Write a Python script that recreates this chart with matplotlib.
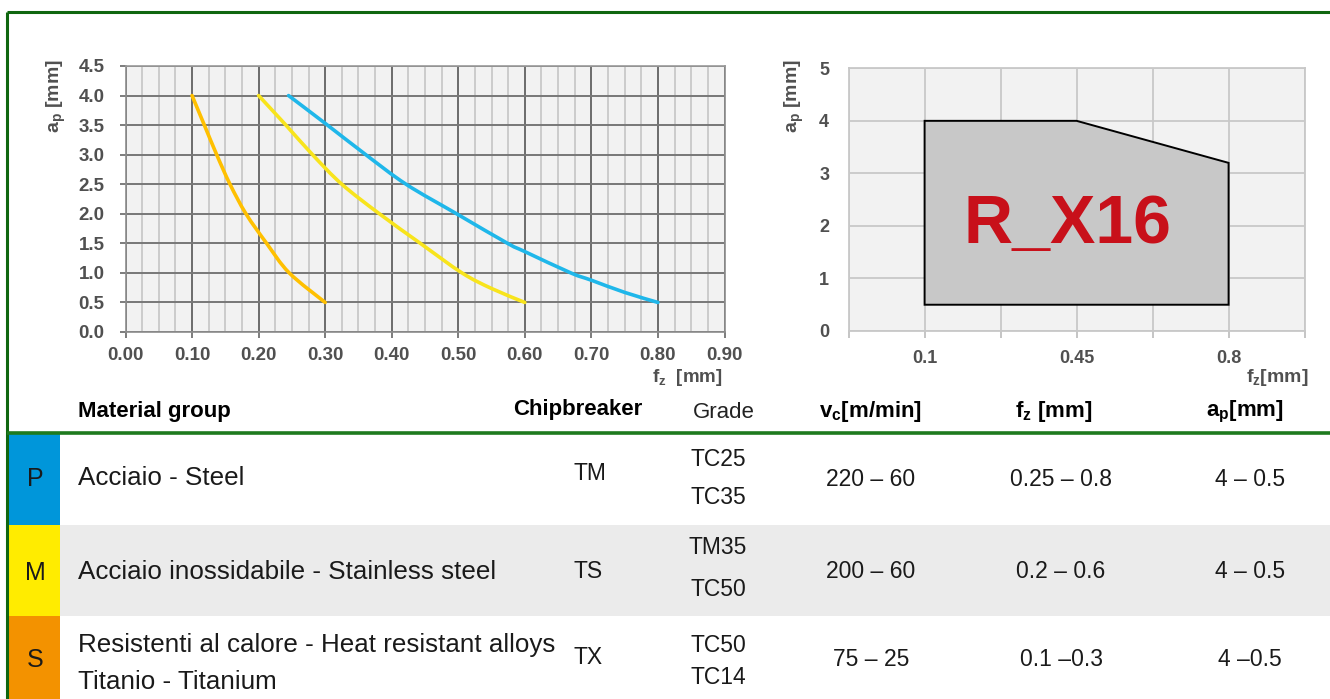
import matplotlib
matplotlib.use("Agg")
import matplotlib.pyplot as plt
from matplotlib.patches import Rectangle, Polygon, PathPatch
from matplotlib.path import Path
import numpy as np

plt.rcParams['font.family'] = ['Liberation Sans', 'DejaVu Sans']
plt.rcParams['mathtext.default'] = 'regular'

# ---------------- data ----------------
# left chart curves (fz [mm], ap [mm])
fz_P = [0.245, 0.30, 0.361, 0.4215, 0.4975, 0.574, 0.60, 0.669, 0.70, 0.75, 0.80]
ap_P = [4.0, 3.53, 3.0, 2.5, 2.0, 1.5, 1.36, 1.0, 0.876, 0.67, 0.5]
fz_M = [0.20, 0.241, 0.281, 0.325, 0.3815, 0.443, 0.5055, 0.55, 0.60]
ap_M = [4.0, 3.5, 3.0, 2.5, 2.0, 1.5, 1.0, 0.736, 0.5]
fz_S = [0.10, 0.1185, 0.137, 0.157, 0.181, 0.212, 0.246, 0.30]
ap_S = [4.0, 3.5, 3.0, 2.5, 2.0, 1.5, 1.0, 0.5]
color_P = '#1FB7EA'
color_M = '#F8E41C'
color_S = '#FFC000'

left_xticks = [0.0, 0.1, 0.2, 0.3, 0.4, 0.5, 0.6, 0.7, 0.8, 0.9]
left_xticklabels = ['0.00', '0.10', '0.20', '0.30', '0.40', '0.50', '0.60', '0.70', '0.80', '0.90']
left_yticks = [0.0, 0.5, 1.0, 1.5, 2.0, 2.5, 3.0, 3.5, 4.0, 4.5]
left_yticklabels = ['0.0', '0.5', '1.0', '1.5', '2.0', '2.5', '3.0', '3.5', '4.0', '4.5']

# right chart: working region
region_fz = [0.1, 0.1, 0.45, 0.8, 0.8]
region_ap = [0.5, 4.0, 4.0, 3.2, 0.5]
region_label = 'R_X16'
right_xticks = [0.1, 0.45, 0.8]
right_xticklabels = ['0.1', '0.45', '0.8']
right_yticks = [0, 1, 2, 3, 4, 5]

# table
groups = ['P', 'M', 'S']
group_colors = ['#0096DA', '#FFEC00', '#F39200']
materials = [['Acciaio - Steel'],
             ['Acciaio inossidabile - Stainless steel'],
             ['Resistenti al calore - Heat resistant alloys', 'Titanio - Titanium']]
chipbreakers = ['TM', 'TS', 'TX']
grades = [['TC25', 'TC35'], ['TM35', 'TC50'], ['TC50', 'TC14']]
vc_ranges = ['220 \u2013 60', '200 \u2013 60', '75 \u2013 25']
fz_ranges = ['0.25 \u2013 0.8', '0.2 \u2013 0.6', '0.1 \u20130.3']
ap_ranges = ['4 \u2013 0.5', '4 \u2013 0.5', '4 \u20130.5']
headers = ['Material group', 'Chipbreaker', 'Grade', 'v$_c$[m/min]', 'f$_z$ [mm]', 'a$_p$[mm]']

# ---------------- figure ----------------
W, H = 1330, 699
fig = plt.figure(figsize=(W / 100, H / 100), dpi=100)

def fx(px):
    return px / W

def fy(py):
    return 1 - py / H

def smooth_path(xs, ys):
    """Smooth curve through the given points (Catmull-Rom as cubic Bezier)."""
    pts = np.column_stack([xs, ys]).astype(float)
    n = len(pts)
    verts = [pts[0]]
    codes = [Path.MOVETO]
    for i in range(n - 1):
        p0 = pts[i - 1] if i > 0 else pts[i]
        p1 = pts[i]
        p2 = pts[i + 1]
        p3 = pts[i + 2] if i + 2 < n else pts[i + 1]
        verts += [p1 + (p2 - p0) / 6.0, p2 - (p3 - p1) / 6.0, p2]
        codes += [Path.CURVE4] * 3
    return Path(verts, codes)

TICK_COL = '#505050'
GREEN = '#0F660F'

# background / table axes in pixel coordinates
bg = fig.add_axes([0, 0, 1, 1])
bg.set_xlim(0, W)
bg.set_ylim(H, 0)
bg.axis('off')
bg.set_zorder(0)

# ---------------- left chart ----------------
axL = fig.add_axes([fx(125.5), fy(332), fx(724.5) - fx(125.5), fy(66) - fy(332)])
axL.set_zorder(2)
axL.set_facecolor('#F2F2F2')
axL.set_xlim(0, 0.9)
axL.set_ylim(0, 4.5)
axL.set_xticks(left_xticks)
axL.set_xticklabels(left_xticklabels)
axL.set_yticks(left_yticks)
axL.set_yticklabels(left_yticklabels)
axL.set_xticks(np.arange(0, 0.9001, 0.025), minor=True)
axL.grid(which='minor', axis='x', color='#C8C8C8', lw=1.3)
axL.grid(which='major', axis='x', color='#555555', lw=1.2)
axL.grid(which='major', axis='y', color='#777777', lw=1.4)
axL.set_axisbelow(True)
for s in axL.spines.values():
    s.set_color('#8C8C8C')
    s.set_linewidth(1.2)
axL.spines['top'].set_color('#999999')
axL.tick_params(axis='both', which='major', colors='#666666', labelcolor=TICK_COL,
                labelsize=13.5, length=4, width=1.2)
axL.tick_params(axis='x', which='minor', length=0)
axL.tick_params(axis='x', pad=7)
axL.tick_params(axis='y', pad=11)
for lab in axL.get_xticklabels() + axL.get_yticklabels():
    lab.set_fontweight('bold')

for xs, ys, c in [(fz_S, ap_S, color_S), (fz_M, ap_M, color_M), (fz_P, ap_P, color_P)]:
    axL.add_patch(PathPatch(smooth_path(xs, ys), facecolor='none', edgecolor=c,
                            lw=2.6, capstyle='round', joinstyle='round', zorder=3))

fig.text(fx(56), fy(96), 'a$_p$ [mm]', rotation=90, ha='center', va='center',
         fontsize=14, fontweight='bold', color=TICK_COL)
fig.text(fx(723), fy(377), 'f$_z$  [mm]', ha='right', va='center',
         fontsize=13.5, fontweight='bold', color=TICK_COL)

# ---------------- right chart ----------------
axR = fig.add_axes([fx(848.6), fy(331), fx(1304.6) - fx(848.6), fy(68.3) - fy(331)])
axR.set_zorder(2)
axR.set_facecolor('#F2F2F2')
axR.set_xlim(-0.075, 0.975)
axR.set_ylim(0, 5)
axR.set_xticks(np.arange(-0.075, 0.976, 0.175), minor=True)
axR.set_xticks(right_xticks)
axR.set_xticklabels(right_xticklabels)
axR.set_yticks(right_yticks)
axR.grid(which='both', color='#C8C8C8', lw=1.3)
axR.set_axisbelow(True)
for s in axR.spines.values():
    s.set_color('#C8C8C8')
    s.set_linewidth(1.3)
axR.tick_params(axis='both', which='both', colors='#BBBBBB', labelcolor=TICK_COL,
                labelsize=13)
axR.tick_params(axis='y', length=0, pad=14)
axR.tick_params(axis='x', which='both', length=5, width=1.2, pad=9)
for lab in axR.get_xticklabels() + axR.get_yticklabels():
    lab.set_fontweight('bold')

axR.add_patch(Polygon(np.column_stack([region_fz, region_ap]), closed=True,
                      facecolor='#C8C8C8', edgecolor='black', lw=1.4, zorder=3))
axR.text(0.428, 1.67, region_label, ha='center', va='baseline', fontsize=49,
         fontweight='bold', color='#C8101A', zorder=4)

fig.text(fx(794), fy(96), 'a$_p$ [mm]', rotation=90, ha='center', va='center',
         fontsize=14, fontweight='bold', color=TICK_COL)
fig.text(fx(1309), fy(377), 'f$_z$[mm]', ha='right', va='center',
         fontsize=14, fontweight='bold', color=TICK_COL)

# ---------------- frame ----------------
bg.plot([7, W], [12, 12], color=GREEN, lw=2.2, solid_capstyle='butt')
bg.plot([7, 7], [12, H], color=GREEN, lw=2.2, solid_capstyle='butt')

# ---------------- table ----------------
row_tops = [434, 525, 616]
row_bots = [525, 616, H]
hdr_y = 411
bg.text(78, hdr_y + 1, headers[0], fontsize=16, fontweight='bold', va='center', ha='left')
bg.text(513, hdr_y - 1, headers[1], fontsize=16, fontweight='bold', va='center', ha='left')
bg.text(724, hdr_y + 1, headers[2], fontsize=16, va='center', ha='center', color='#222222')
bg.text(870, hdr_y + 1, headers[3], fontsize=16, fontweight='bold', va='center', ha='center')
bg.text(1054, hdr_y + 1, headers[4], fontsize=16, fontweight='bold', va='center', ha='center')
bg.text(1245, hdr_y + 1, headers[5], fontsize=16, fontweight='bold', va='center', ha='center')

bg.plot([7, W], [433, 433], color='#1E7A1E', lw=2.6, solid_capstyle='butt')

# grey band for middle row
bg.add_patch(Rectangle((60, row_tops[1]), W - 60, row_bots[1] - row_tops[1],
                       facecolor='#EBEBEB', edgecolor='none'))

for i, g in enumerate(groups):
    top, bot = row_tops[i], row_bots[i]
    bg.add_patch(Rectangle((8.5, top), 51.5, bot - top, facecolor=group_colors[i],
                           edgecolor='none'))

letter_y = [479, 573, 660]
mat_y = [[478], [572], [645, 682]]
cb_y = [473, 572, 658]
grade_y = [[460, 497], [548, 589], [646, 677]]
val_y = [480, 572, 660]
TXT = '#1A1A1A'
for i, g in enumerate(groups):
    bg.text(35, letter_y[i], g, fontsize=18, ha='center', va='center', color=TXT)
    for t, yy in zip(materials[i], mat_y[i]):
        bg.text(78, yy, t, fontsize=18.7, ha='left', va='center', color=TXT)
    bg.text(573, cb_y[i], chipbreakers[i], fontsize=16.5, ha='left', va='center', color=TXT)
    for t, yy in zip(grades[i], grade_y[i]):
        bg.text(718, yy, t, fontsize=16.5, ha='center', va='center', color=TXT)
    bg.text(871, val_y[i], vc_ranges[i], fontsize=16.5, ha='center', va='center', color=TXT)
    bg.text(1061, val_y[i], fz_ranges[i], fontsize=16.5, ha='center', va='center', color=TXT)
    bg.text(1250, val_y[i], ap_ranges[i], fontsize=16.5, ha='center', va='center', color=TXT)

fig.savefig('out.png', dpi=100)
